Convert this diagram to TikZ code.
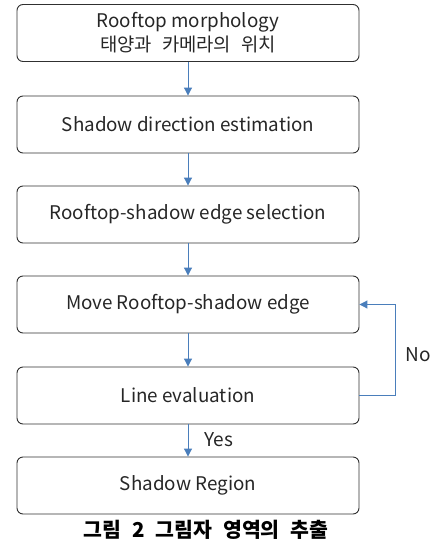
\documentclass[tikz,border=0pt]{standalone}
\usepackage{fontspec}
\setmainfont{Noto Sans CJK KR}
\usetikzlibrary{arrows.meta}
\definecolor{arrowblue}{HTML}{4A7EBB}
\definecolor{boxline}{HTML}{303030}
\tikzset{
  stepbox/.style={draw=boxline, line width=0.9pt, rounded corners=6pt, minimum width=342pt, minimum height=57pt, inner sep=0pt, align=center, font=\fontsize{18.8}{24}\selectfont, text=black!85},
  flow/.style={draw=arrowblue, line width=1pt, -{Triangle[length=8pt,width=8pt]}},
  lbl/.style={font=\fontsize{19}{22}\selectfont, text=black!85}
}
\begin{document}
\begin{tikzpicture}[x=1pt,y=-1pt]
\useasboundingbox (0,0) rectangle (440,544);
\node[stepbox] (b1) at (188,33) {Rooftop morphology\\{\spaceskip=10pt 태양과 카메라의 위치}};
\node[stepbox] (b2) at (188,124.5) {Shadow direction estimation};
\node[stepbox] (b3) at (188,214.5) {Rooftop-shadow edge selection};
\node[stepbox] (b4) at (188,304.5) {Move Rooftop-shadow edge};
\node[stepbox] (b5) at (188,395.5) {Line evaluation};
\node[stepbox] (b6) at (188,485.5) {Shadow Region};
\draw[flow] (b1) -- (b2);
\draw[flow] (b2) -- (b3);
\draw[flow] (b3) -- (b4);
\draw[flow] (b4) -- (b5);
\draw[flow] (b5) -- (b6);
\coordinate (c1) at (395,395.5);
\coordinate (c2) at (395,304.5);
\draw[flow] (b5.east) -- (c1) -- (c2) -- (b4.east);
\node[lbl, anchor=west] (no) at (402,355) {No};
\node[lbl, anchor=west] (yes) at (201,440) {Yes};
\node[font=\bfseries\fontsize{20.5}{24}\selectfont, text=black] (cap) at (206,530) {\spaceskip=11pt 그림 2 그림자 영역의 추출};
\end{tikzpicture}
\end{document}
